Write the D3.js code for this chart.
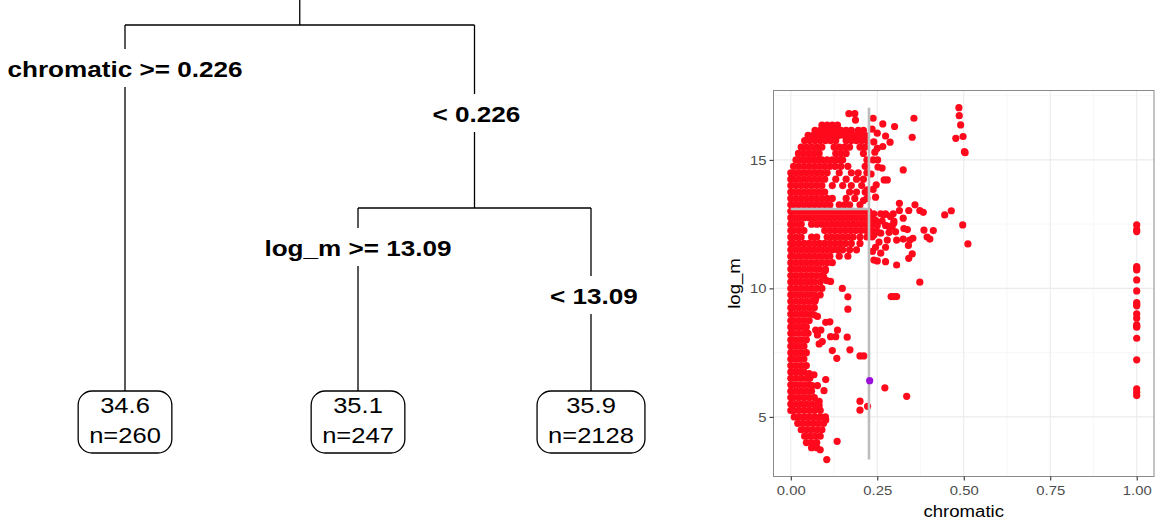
<!DOCTYPE html>
<html><head><meta charset="utf-8">
<script src="https://cdn.jsdelivr.net/npm/d3@7"></script>
<style>body{margin:0;background:#fff}svg{display:block}</style>
</head><body>
<svg id="c" width="1156" height="525"></svg>
<script>
// ---------------- data ----------------
const splitVar1 = "chromatic", splitVal1 = 0.226;
const splitVar2 = "log_m", splitVal2 = 13.09;
const leafMeans = ["34.6", "35.1", "35.9"];
const leafCounts = [260, 247, 2128];
const splitLabelsLeft = ["chromatic >= 0.226", "log_m >= 13.09"];
const splitLabelsRight = ["< 0.226", "< 13.09"];

const xTicks = [0, 0.25, 0.5, 0.75, 1.0];
const xTickLabels = ["0.00", "0.25", "0.50", "0.75", "1.00"];
const yTicks = [5, 10, 15];
const xMinor = [0.125, 0.375, 0.625, 0.875];
const yMinor = [7.5, 12.5, 17.5];

// dense core of the scatter: rows of [log_m, [chromatic values]]
const denseRows = [
 [16.8, [0.168, 0.185]],
 [16.55, [0.187]],
 [16.35, [0.09, 0.105, 0.12, 0.135]],
 [16.15, [0.07, 0.085, 0.1, 0.115, 0.13, 0.145, 0.16, 0.175, 0.195, 0.21]],
 [15.95, [0.05, 0.065, 0.08, 0.095, 0.11, 0.125, 0.14, 0.155, 0.17, 0.185, 0.2, 0.215]],
 [15.75, [0.04, 0.055, 0.07, 0.085, 0.1, 0.115, 0.13, 0.16, 0.175, 0.19, 0.205, 0.22]],
 [15.5, [0.03, 0.045, 0.06, 0.075, 0.09, 0.125, 0.14, 0.155, 0.17, 0.2, 0.215]],
 [15.25, [0.022, 0.037, 0.052, 0.067, 0.082, 0.13, 0.145, 0.16, 0.21]],
 [15.0, [0.015, 0.03, 0.045, 0.06, 0.075, 0.09, 0.105, 0.12, 0.135, 0.15, 0.22]],
 [14.75, [0.008, 0.023, 0.038, 0.053, 0.068, 0.083, 0.098, 0.113, 0.128, 0.145, 0.165, 0.215]],
 [14.5, [0.0, 0.015, 0.03, 0.045, 0.06, 0.075, 0.09, 0.105, 0.14, 0.175, 0.195, 0.22]],
 [14.25, [0.0, 0.008, 0.023, 0.038, 0.053, 0.068, 0.083, 0.098, 0.13, 0.16, 0.19, 0.21]],
 [14.0, [0.0, 0.015, 0.03, 0.045, 0.06, 0.075, 0.09, 0.12, 0.15, 0.175, 0.205]],
 [13.75, [0.0, 0.008, 0.023, 0.038, 0.053, 0.068, 0.083, 0.098, 0.17, 0.19, 0.215]],
 [13.5, [0.0, 0.015, 0.03, 0.045, 0.06, 0.075, 0.09, 0.105, 0.12, 0.16, 0.185, 0.22]],
 [13.25, [0.0, 0.008, 0.023, 0.038, 0.053, 0.068, 0.083, 0.098, 0.113, 0.14, 0.155, 0.17, 0.2]],
 [13.0, [0.0, 0.015, 0.03, 0.045, 0.06, 0.075, 0.09, 0.105, 0.12, 0.135, 0.15, 0.165, 0.18, 0.195, 0.21, 0.225]],
 [12.75, [0.0, 0.008, 0.023, 0.038, 0.053, 0.068, 0.083, 0.098, 0.113, 0.128, 0.143, 0.158, 0.173, 0.188, 0.203, 0.218]],
 [12.5, [0.0, 0.015, 0.03, 0.06, 0.075, 0.09, 0.105, 0.12, 0.135, 0.15, 0.165, 0.18, 0.195, 0.21, 0.225]],
 [12.25, [0.0, 0.008, 0.023, 0.038, 0.098, 0.113, 0.128, 0.143, 0.158, 0.173, 0.188, 0.203, 0.218]],
 [12.0, [0.0, 0.015, 0.03, 0.06, 0.075, 0.105, 0.12, 0.135, 0.15, 0.165, 0.18, 0.2, 0.22]],
 [11.75, [0.0, 0.008, 0.023, 0.038, 0.053, 0.068, 0.083, 0.098, 0.113, 0.128, 0.143, 0.158, 0.175, 0.2]],
 [11.5, [0.0, 0.015, 0.03, 0.045, 0.06, 0.075, 0.09, 0.105, 0.12, 0.135, 0.15, 0.17, 0.19]],
 [11.25, [0.0, 0.008, 0.023, 0.038, 0.053, 0.068, 0.083, 0.098, 0.113, 0.14, 0.165]],
 [11.0, [0.0, 0.015, 0.03, 0.045, 0.06, 0.075, 0.09, 0.105, 0.12]],
 [10.75, [0.0, 0.008, 0.023, 0.038, 0.053, 0.068, 0.083, 0.1]],
 [10.5, [0.0, 0.015, 0.03, 0.045, 0.06, 0.075, 0.09]],
 [10.25, [0.0, 0.008, 0.023, 0.038, 0.053, 0.068, 0.085]],
 [10.0, [0.0, 0.015, 0.03, 0.045, 0.06, 0.075, 0.09]],
 [9.75, [0.0, 0.008, 0.023, 0.038, 0.053, 0.068, 0.085]],
 [9.5, [0.0, 0.015, 0.03, 0.045, 0.06, 0.07]],
 [9.25, [0.0, 0.008, 0.023, 0.038, 0.053, 0.068]],
 [9.0, [0.0, 0.015, 0.03, 0.045, 0.06]],
 [8.75, [0.0, 0.008, 0.023, 0.038, 0.053]],
 [8.5, [0.0, 0.015, 0.03, 0.045]],
 [8.25, [0.0, 0.008, 0.023, 0.038, 0.05]],
 [8.0, [0.0, 0.015, 0.03, 0.045]],
 [7.75, [0.0, 0.008, 0.023, 0.038]],
 [7.5, [0.0, 0.015, 0.03, 0.045]],
 [7.25, [0.0, 0.008, 0.023, 0.038]],
 [7.0, [0.0, 0.015, 0.03, 0.045]],
 [6.75, [0.0, 0.008, 0.023, 0.038]],
 [6.5, [0.0, 0.015, 0.03, 0.045, 0.055]],
 [6.25, [0.0, 0.008, 0.023, 0.038, 0.053]],
 [6.0, [0.0, 0.015, 0.03, 0.045, 0.06]],
 [5.75, [0.0, 0.008, 0.023, 0.038, 0.053, 0.068]],
 [5.5, [0.0, 0.015, 0.03, 0.045, 0.06, 0.075]],
 [5.25, [0.0, 0.008, 0.023, 0.038, 0.053, 0.068, 0.085]],
 [5.0, [0.01, 0.025, 0.04, 0.055, 0.07, 0.085, 0.1]],
 [4.75, [0.02, 0.035, 0.05, 0.065, 0.08, 0.095]],
 [4.5, [0.03, 0.045, 0.06, 0.075, 0.09]],
 [4.25, [0.04, 0.055, 0.07, 0.085]],
 [4.0, [0.045, 0.06, 0.075]],
 [3.8, [0.06, 0.075]]
];

// scattered observations [chromatic, log_m]
const sparsePoints = [
 [0.238,16.62],[0.266,16.4],[0.3,16.3],[0.356,16.62],[0.351,15.88],[0.274,15.93],[0.25,16.04],
 [0.287,15.69],[0.266,15.52],[0.25,15.45],[0.243,15.3],[0.251,15.0],[0.238,15.0],[0.264,14.68],
 [0.252,14.72],[0.27,14.22],[0.279,14.22],[0.247,14.03],[0.325,14.61],[0.235,16.2],[0.24,15.7],
 [0.232,14.45],[0.238,13.85],[0.245,13.55],[0.221,13.83],[0.21,13.42],
 [0.314,13.31],[0.359,13.25],[0.341,13.03],[0.314,13.03],[0.373,13.03],[0.383,12.96],[0.445,12.86],
 [0.464,13.02],[0.24,12.9],[0.26,12.9],[0.274,12.9],[0.296,12.9],[0.245,12.65],[0.264,12.62],
 [0.298,12.62],[0.325,12.73],[0.274,12.45],[0.293,12.4],[0.327,12.33],[0.337,12.29],[0.497,12.47],
 [0.385,12.27],[0.412,12.25],[0.26,12.15],[0.284,12.18],[0.303,12.2],[0.24,12.08],[0.394,12.0],
 [0.402,11.92],[0.353,11.95],[0.325,11.92],[0.306,11.88],[0.344,11.88],[0.279,11.88],[0.255,11.8],
 [0.245,11.6],[0.274,11.6],[0.34,11.67],[0.512,11.73],[0.236,11.44],[0.26,11.37],[0.351,11.34],
 [0.341,11.17],[0.24,11.1],[0.25,11.07],[0.274,11.04],[0.306,10.91],[0.373,10.24],[0.29,9.68],
 [0.298,9.68],[0.306,9.68],[0.235,12.75],[0.235,12.5],[0.235,12.25],[0.25,12.45],[0.25,12.2],
 [0.235,12.0],[0.288,12.8],[0.298,12.54],[0.284,12.41],[0.269,12.86],
 [0.486,17.03],[0.487,16.72],[0.491,16.36],[0.477,15.84],[0.498,15.91],[0.502,15.32],[0.504,15.28],
 [0.149,10.0],[0.115,10.27],[0.104,10.3],[0.165,9.67],[0.165,9.19],[0.077,8.91],[0.101,8.68],
 [0.113,8.7],[0.135,8.38],[0.087,8.38],[0.072,8.38],[0.077,8.19],[0.091,7.93],[0.115,8.12],
 [0.13,8.12],[0.163,8.1],[0.082,7.84],[0.12,7.58],[0.171,7.61],[0.133,7.28],[0.2,7.37],[0.211,7.37],
 [0.053,6.68],[0.067,6.64],[0.101,6.45],[0.062,6.22],[0.077,6.22],[0.096,6.02],[0.082,5.6],
 [0.082,5.43],[0.101,4.88],[0.134,4.05],[0.085,3.72],[0.104,3.34],[0.272,6.13],[0.335,5.8],
 [0.2,5.61],[0.2,5.26],[0.222,5.41],[0.095,10.45],[0.1,10.7],[0.067,8.97],[0.072,9.6]
];
// observations with chromatic = 1
const fullChromaticLogM = [12.47,12.28,12.21,10.85,10.78,10.72,10.33,9.9,9.45,9.38,9.32,9.01,8.84,8.58,8.53,8.49,8.06,7.22,6.09,5.96,5.83];
// the one observation drawn in a different colour
const highlightPoint = [0.228, 6.41];

// ---------------- drawing ----------------
const svg = d3.select("#c");
svg.append("rect").attr("width",1156).attr("height",525).attr("fill","#fff");
const FONT = "'Liberation Sans', Arial, Helvetica, sans-serif";
const STRETCH = 1.16;

function stretchText(sel){
  sel.each(function(){
    const w = this.getComputedTextLength();
    d3.select(this).attr("textLength", w*STRETCH).attr("lengthAdjust","spacingAndGlyphs");
  });
}

// ---------- tree ----------
const tree = svg.append("g");
const leafX = d3.scalePoint().domain([0,1,2]).range([125, 591]);
const levelY = d3.scaleLinear().domain([0,2]).range([25, 391]);
const xB = (leafX(1)+leafX(2))/2;
const xRoot = (leafX(0)+xB)/2;
const line = (x1,y1,x2,y2)=>tree.append("line").attr("x1",x1).attr("y1",y1).attr("x2",x2).attr("y2",y2)
   .attr("stroke","#000").attr("stroke-width",1.3);

line(xRoot, 0, xRoot, levelY(0));
line(leafX(0), levelY(0), xB, levelY(0));
line(leafX(0), levelY(0), leafX(0), levelY(2));
line(xB, levelY(0), xB, levelY(1));
line(leafX(1), levelY(1), leafX(2), levelY(1));
line(leafX(1), levelY(1), leafX(1), levelY(2));
line(leafX(2), levelY(1), leafX(2), levelY(2));

function splitLabel(txt, x, baseline){
  const g = tree.append("g");
  const r = g.append("rect").attr("fill","#fff");
  const t = g.append("text").attr("x",x).attr("y",baseline).attr("text-anchor","middle")
    .attr("font-family",FONT).attr("font-weight","bold").attr("font-size",22.5).attr("fill","#000").text(txt);
  stretchText(t);
  const w = +t.attr("textLength");
  r.attr("x", x-w/2-3).attr("y", baseline-28).attr("width", w+6).attr("height", 38);
}
splitLabel(splitLabelsLeft[0], leafX(0), levelY(0)+52);
splitLabel(splitLabelsRight[0], xB+2, levelY(0)+97);
splitLabel(splitLabelsLeft[1], leafX(1), levelY(1)+48);
splitLabel(splitLabelsRight[1], leafX(2)+3, levelY(1)+96);

leafMeans.forEach((m,i)=>{
  const g = tree.append("g");
  const cx = leafX(i), top = levelY(2);
  const r = g.append("rect").attr("fill","#fff").attr("stroke","#000").attr("stroke-width",1.3).attr("rx",14).attr("ry",14);
  const t1 = g.append("text").attr("x",cx).attr("y",top+22).attr("text-anchor","middle")
    .attr("font-family",FONT).attr("font-size",22).attr("fill","#000").text(m);
  const t2 = g.append("text").attr("x",cx).attr("y",top+52).attr("text-anchor","middle")
    .attr("font-family",FONT).attr("font-size",22).attr("fill","#000").text("n="+leafCounts[i]);
  stretchText(t1); stretchText(t2);
  const w = Math.max(+t1.attr("textLength"), +t2.attr("textLength")) + 22;
  r.attr("x", cx-w/2).attr("y", top).attr("width", w).attr("height", 62);
});

// ---------- scatter ----------
const P = {l:773.5, r:1154, t:90.5, b:476.5};
const x = d3.scaleLinear().domain([-0.05, 1.05]).range([P.l, P.r]);
const y = d3.scaleLinear().domain([2.68, 17.70]).range([P.b, P.t]);
const sc = svg.append("g");

sc.append("g").selectAll("line.xm").data(xMinor).join("line")
  .attr("x1",d=>x(d)).attr("x2",d=>x(d)).attr("y1",P.t).attr("y2",P.b)
  .attr("stroke","#f4f4f4").attr("stroke-width",0.6);
sc.append("g").selectAll("line.ym").data(yMinor.filter(v=>y(v)>P.t)).join("line")
  .attr("y1",d=>y(d)).attr("y2",d=>y(d)).attr("x1",P.l).attr("x2",P.r)
  .attr("stroke","#f4f4f4").attr("stroke-width",0.6);
sc.append("g").selectAll("line").data(xTicks).join("line")
  .attr("x1",d=>x(d)).attr("x2",d=>x(d)).attr("y1",P.t).attr("y2",P.b)
  .attr("stroke","#ebebeb").attr("stroke-width",1.1);
sc.append("g").selectAll("line").data(yTicks).join("line")
  .attr("y1",d=>y(d)).attr("y2",d=>y(d)).attr("x1",P.l).attr("x2",P.r)
  .attr("stroke","#ebebeb").attr("stroke-width",1.1);

const allPts = [];
denseRows.forEach(([ly, xs])=>xs.forEach(cx=>allPts.push([cx, ly])));
sparsePoints.forEach(p=>allPts.push(p));
fullChromaticLogM.forEach(ly=>allPts.push([1.0, ly]));

const R = 3.6;
sc.append("g").selectAll("circle").data(allPts).join("circle")
  .attr("cx",d=>x(d[0])).attr("cy",d=>y(d[1])).attr("r",R).attr("fill","#fe0a1c");

// split lines
const yExt = d3.extent(allPts.concat([highlightPoint]), d=>d[1]);
sc.append("line").attr("x1",x(splitVal1)).attr("x2",x(splitVal1)).attr("y1",y(yExt[0])).attr("y2",y(yExt[1]))
  .attr("stroke","#bdbdbd").attr("stroke-width",2.6);
sc.append("line").attr("x1",x(0)).attr("x2",x(splitVal1)).attr("y1",y(splitVal2)).attr("y2",y(splitVal2))
  .attr("stroke","#bdbdbd").attr("stroke-width",2.6);

sc.append("circle").attr("cx",x(highlightPoint[0])).attr("cy",y(highlightPoint[1])).attr("r",R).attr("fill","#9b10d8");

// border
sc.append("rect").attr("x",P.l).attr("y",P.t).attr("width",P.r-P.l).attr("height",P.b-P.t)
  .attr("fill","none").attr("stroke","#8a8a8a").attr("stroke-width",1);

// axes
const xAxis = d3.axisBottom(x).tickValues(xTicks).tickFormat((d,i)=>xTickLabels[i]).tickSize(4).tickPadding(4);
const gx = sc.append("g").attr("transform",`translate(0,${P.b})`).call(xAxis);
const yAxis = d3.axisLeft(y).tickValues(yTicks).tickSize(4).tickPadding(3);
const gy = sc.append("g").attr("transform",`translate(${P.l},0)`).call(yAxis);
[gx,gy].forEach(g=>{
  g.select(".domain").remove();
  g.selectAll(".tick line").attr("stroke","#333").attr("stroke-width",1.1);
  g.selectAll(".tick text").attr("font-family",FONT).attr("font-size",12.8).attr("fill","#4d4d4d");
});
gx.selectAll(".tick text").attr("dy","0.8em");
gy.selectAll(".tick text").attr("dy","0.35em");
stretchText(gx.selectAll(".tick text"));
stretchText(gy.selectAll(".tick text"));

const xt = sc.append("text").attr("x",(P.l+P.r)/2).attr("y",517).attr("text-anchor","middle")
  .attr("font-family",FONT).attr("font-size",16).attr("fill","#000").text(splitVar1);
stretchText(xt);
const yt = sc.append("text").attr("transform",`translate(740,${(P.t+P.b)/2}) rotate(-90)`).attr("text-anchor","middle")
  .attr("font-family",FONT).attr("font-size",16).attr("fill","#000").text(splitVar2);
stretchText(yt);
</script>
</body></html>
